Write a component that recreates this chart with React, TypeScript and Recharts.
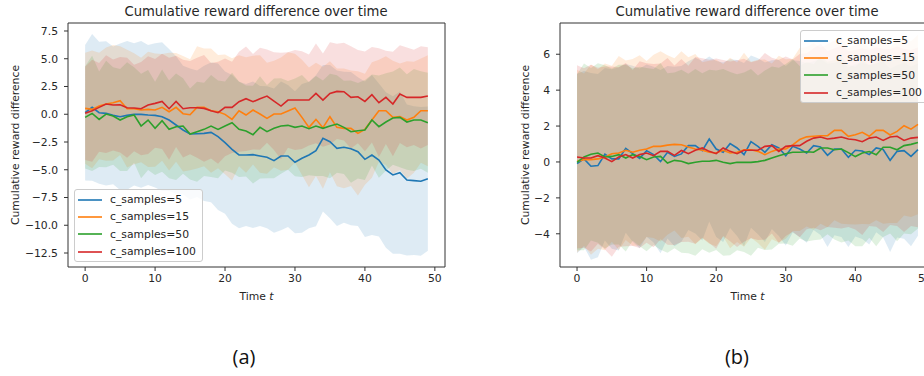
import React from 'react';
import { ComposedChart, Area, Line, XAxis, YAxis, ReferenceArea, Legend } from 'recharts';

const COLORS = ['#1f77b4', '#ff7f0e', '#2ca02c', '#d62728'];
const seriesLabels = ['c_samples=5', 'c_samples=15', 'c_samples=50', 'c_samples=100'];
const titleText = 'Cumulative reward difference over time';
const yLabelText = 'Cumulative reward difference';

const steps = [0, 1, 2, 3, 4, 5, 6, 7, 8, 9, 10, 11, 12, 13, 14, 15, 16, 17, 18, 19, 20, 21, 22, 23, 24, 25, 26, 27, 28, 29, 30, 31, 32, 33, 34, 35, 36, 37, 38, 39, 40, 41, 42, 43, 44, 45, 46, 47, 48, 49];
const xTicks = [0, 10, 20, 30, 40, 50];
const yTicksA = [-12.5, -10, -7.5, -5, -2.5, 0, 2.5, 5, 7.5];
const yTicksB = [-4, -2, 0, 2, 4, 6];

// ---- panel (a): mean and spread per series ----
const blueMeanA = [0.14, 0.62, 0.14, 0.08, -0.10, -0.22, -0.10, -0.01, -0.01, -0.07, -0.10, -0.22, -0.52, -0.97, -1.42, -1.78, -1.75, -1.72, -1.63, -2.02, -2.56, -3.16, -3.67, -3.67, -3.64, -3.76, -3.88, -4.18, -3.76, -3.76, -4.33, -3.97, -3.67, -3.28, -2.17, -2.47, -3.07, -2.98, -3.10, -3.37, -4.06, -3.67, -4.12, -5.02, -5.47, -5.26, -5.92, -5.98, -6.04, -5.80];
const blueStdA = [6.1, 6.6, 6.4, 6.5, 6.2, 6.6, 6.7, 6.4, 6.6, 6.3, 6.5, 6.7, 6.4, 6.2, 5.8, 5.9, 5.7, 6.1, 6.3, 6.6, 6.4, 6.7, 6.6, 6.4, 6.6, 6.3, 6.4, 6.5, 6.7, 6.4, 6.4, 6.7, 6.6, 6.8, 6.6, 6.9, 7.0, 6.8, 6.9, 6.7, 7.0, 7.2, 6.9, 7.0, 7.1, 7.3, 6.8, 6.7, 6.7, 6.5];
const orangeMeanA = [0.53, 0.44, 0.74, 0.92, 1.04, 1.22, 0.50, 0.50, 0.38, 0.44, 0.38, 0.62, 0.23, 0.62, 0.05, -0.04, 0.62, 0.62, 0.32, 0.23, -0.01, -0.46, 0.32, -0.07, 0.38, 0.02, -0.37, 0.02, 0.02, 0.29, 0.56, -0.28, -1.18, -0.46, -1.21, -0.22, -1.18, -1.27, -1.27, -1.72, -1.36, -0.52, 0.32, 0.32, -0.28, -0.22, -0.52, -0.28, 0.32, 0.32];
const orangeStdA = [5.0, 5.3, 4.8, 5.1, 5.2, 4.9, 5.3, 5.0, 4.7, 5.2, 5.1, 4.8, 5.3, 4.9, 5.2, 5.0, 5.5, 5.3, 5.6, 5.1, 5.4, 5.5, 5.0, 5.2, 4.9, 5.3, 5.0, 4.8, 5.1, 5.3, 4.9, 5.2, 5.4, 5.1, 5.5, 5.0, 5.3, 5.4, 5.2, 5.6, 5.0, 5.2, 4.6, 4.9, 5.1, 4.8, 5.3, 5.0, 4.7, 5.0];
const greenMeanA = [-0.28, 0.08, -0.46, 0.02, -0.16, -0.52, -0.22, -0.07, -1.06, -0.52, -1.27, -0.58, -1.36, -1.12, -1.06, -1.78, -1.57, -1.36, -1.06, -1.36, -1.06, -0.76, -1.36, -1.51, -1.84, -1.18, -1.57, -1.27, -1.06, -1.00, -1.18, -1.06, -1.30, -1.06, -1.27, -1.06, -0.88, -1.18, -1.57, -1.48, -1.42, -0.52, -1.12, -0.70, -0.34, -0.28, -0.70, -0.52, -0.52, -0.76];
const greenStdA = [4.6, 5.2, 4.3, 4.8, 4.4, 4.6, 4.9, 4.3, 4.7, 4.5, 4.2, 4.6, 4.4, 4.8, 4.3, 4.1, 4.5, 4.2, 4.6, 4.4, 4.0, 4.5, 4.3, 4.1, 4.4, 4.6, 4.2, 4.5, 4.3, 4.0, 4.4, 4.6, 4.2, 4.5, 4.3, 4.7, 4.4, 4.2, 4.6, 4.3, 4.5, 4.1, 4.6, 4.4, 4.2, 4.5, 4.3, 4.6, 4.4, 4.5];
const redMeanA = [0.08, 0.32, 0.62, 0.92, 0.83, 0.86, 0.59, 0.56, 0.50, 0.83, 0.98, 1.16, 0.50, 1.16, 0.50, 0.59, 0.59, 0.53, 0.32, 0.14, 0.62, 0.62, 1.13, 1.40, 1.13, 1.40, 1.64, 1.19, 0.74, 1.28, 1.28, 1.28, 1.28, 1.88, 1.28, 1.88, 2.06, 2.03, 1.52, 1.58, 1.16, 1.76, 1.04, 1.52, 0.92, 1.82, 1.52, 1.52, 1.52, 1.64];
const redStdA = [4.2, 4.6, 4.0, 4.4, 4.1, 4.3, 4.5, 3.9, 4.2, 4.4, 4.0, 4.3, 4.6, 4.1, 4.4, 4.2, 4.5, 4.8, 4.3, 4.6, 4.4, 4.1, 4.5, 4.7, 4.3, 4.6, 4.2, 4.4, 4.8, 4.3, 4.5, 4.4, 4.1, 4.5, 4.2, 4.6, 4.3, 4.4, 4.6, 4.2, 4.5, 4.3, 4.9, 4.2, 4.7, 4.4, 4.5, 4.3, 4.6, 4.4];

// ---- panel (b) ----
const blueMeanB = [-0.09, 0.17, -0.24, -0.20, 0.43, 0.17, 0.17, 0.76, 0.46, 0.20, 0.63, 0.41, 0.02, 0.54, 0.31, 0.45, 0.91, 0.91, 0.63, 1.28, 0.72, 0.54, 1.02, 0.78, 0.41, 1.13, 0.87, 0.54, 0.96, 0.78, 0.35, 0.87, 0.72, 0.50, 0.91, 0.83, 0.37, 0.72, 0.72, 0.26, 0.65, 0.61, 0.41, 0.78, 0.69, 0.09, 0.59, 0.63, 0.31, 0.69];
const blueStdB = [5.0, 4.9, 5.2, 5.1, 4.8, 5.0, 5.1, 4.7, 4.9, 5.0, 4.8, 4.9, 5.1, 4.8, 5.0, 4.9, 4.7, 4.9, 5.0, 4.6, 4.9, 5.0, 4.7, 4.9, 5.1, 4.8, 4.9, 5.0, 4.7, 4.9, 5.0, 4.8, 4.9, 5.0, 4.7, 4.9, 5.1, 4.8, 4.9, 5.0, 4.8, 4.9, 5.0, 4.7, 4.9, 5.1, 4.8, 4.9, 5.0, 4.8];
const orangeMeanB = [0.04, 0.13, 0.13, 0.17, 0.28, 0.46, 0.50, 0.65, 0.54, 0.65, 0.72, 0.87, 0.87, 0.94, 0.98, 0.96, 0.83, 0.72, 0.65, 0.54, 0.50, 0.65, 0.50, 0.54, 0.68, 0.68, 0.59, 0.41, 0.59, 0.72, 0.72, 0.95, 1.25, 1.40, 1.43, 1.46, 1.46, 1.76, 1.76, 1.43, 1.52, 1.65, 1.43, 1.76, 1.76, 1.50, 1.70, 2.02, 1.83, 2.09];
const orangeStdB = [5.1, 4.8, 5.3, 5.0, 5.2, 4.9, 5.4, 5.0, 5.2, 5.3, 4.9, 5.1, 5.3, 5.0, 4.8, 5.2, 5.0, 5.3, 4.9, 5.1, 5.2, 4.8, 5.3, 5.0, 5.4, 4.9, 5.1, 5.3, 4.9, 5.2, 5.0, 4.8, 5.1, 5.0, 5.2, 4.9, 5.1, 5.0, 5.2, 4.9, 5.0, 5.1, 4.9, 5.0, 5.2, 4.9, 5.1, 5.0, 4.9, 5.0];
const greenMeanB = [-0.02, 0.28, 0.43, 0.50, 0.28, 0.31, 0.41, 0.22, 0.41, 0.31, 0.13, 0.28, 0.31, -0.06, 0.09, 0.04, -0.09, -0.02, 0.04, 0.04, 0.09, -0.02, -0.09, -0.02, -0.02, -0.02, 0.02, 0.09, 0.22, 0.35, 0.46, 0.54, 0.54, 0.57, 0.54, 0.78, 0.78, 0.68, 0.72, 0.52, 0.30, 0.50, 0.58, 0.40, 0.82, 0.82, 0.68, 0.91, 0.98, 1.09];
const greenStdB = [4.9, 5.2, 4.8, 5.0, 5.1, 4.9, 5.0, 5.2, 4.8, 5.0, 5.1, 4.9, 5.2, 5.0, 4.9, 5.1, 5.0, 5.2, 4.9, 5.1, 5.0, 5.2, 5.1, 4.9, 5.0, 5.2, 4.8, 5.0, 5.1, 4.9, 5.0, 5.2, 4.8, 5.0, 4.9, 5.1, 4.8, 5.0, 5.2, 4.9, 5.0, 5.2, 4.8, 5.1, 5.0, 4.8, 5.1, 4.9, 5.0, 4.8];
const redMeanB = [0.28, 0.22, 0.22, 0.35, 0.22, 0.02, 0.28, 0.41, 0.22, 0.41, 0.50, 0.35, 0.59, 0.59, 0.37, 0.64, 0.46, 0.65, 0.78, 0.59, 0.46, 0.78, 0.59, 0.46, 0.65, 0.65, 0.65, 0.87, 0.91, 0.59, 0.87, 0.91, 0.91, 1.15, 1.33, 1.39, 1.28, 1.33, 1.39, 1.28, 1.24, 1.13, 1.33, 1.39, 1.20, 1.39, 1.43, 1.20, 1.33, 1.37];
const redStdB = [5.1, 5.0, 5.2, 4.9, 5.1, 5.3, 5.0, 5.1, 4.9, 5.2, 5.0, 5.1, 4.9, 5.2, 5.0, 5.1, 4.9, 5.2, 5.0, 5.1, 5.3, 4.9, 5.0, 5.2, 5.1, 4.9, 5.0, 5.2, 4.9, 5.1, 5.0, 4.8, 5.1, 4.9, 5.0, 5.2, 4.9, 5.0, 5.1, 4.9, 5.0, 5.2, 4.9, 5.0, 5.1, 4.9, 5.0, 5.1, 4.9, 5.0];

function buildRows(means: number[][], stds: number[][]) {
  return steps.map((t, i) => {
    const row: any = { t };
    means.forEach((m, s) => {
      row['m' + s] = m[i];
      row['b' + s] = [m[i] - stds[s][i], m[i] + stds[s][i]];
    });
    return row;
  });
}

const rowsA = buildRows([blueMeanA, orangeMeanA, greenMeanA, redMeanA], [blueStdA, orangeStdA, greenStdA, redStdA]);
const rowsB = buildRows([blueMeanB, orangeMeanB, greenMeanB, redMeanB], [blueStdB, orangeStdB, greenStdB, redStdB]);

const FONT = '"DejaVu Sans", sans-serif';
const TXT = '#262626';

const minus = (s: string) => s.replace('-', '\u2212');

function LegendBox() {
  return (
    <div style={{
      border: '1px solid #cccccc', borderRadius: 3, background: 'rgba(255,255,255,0.8)',
      padding: '1px 6px 1px 3px', fontFamily: FONT, fontSize: 10.8, color: TXT, boxSizing: 'border-box',
    }}>
      {seriesLabels.map((lab, s) => (
        <div key={lab} style={{ display: 'flex', alignItems: 'center', height: 17.3, whiteSpace: 'nowrap' }}>
          <svg width={24} height={4} style={{ marginRight: 8 }}>
            <line x1={0} y1={2} x2={24} y2={2} stroke={COLORS[s]} strokeWidth={1.6} />
          </svg>
          <span>{lab}</span>
        </div>
      ))}
    </div>
  );
}

type PanelProps = {
  rows: any[];
  left: number;
  width: number;
  yDomain: [number, number];
  yTicks: number[];
  yFmt: (v: number) => string;
  legendLeft: number;
  legendTop: number;
  yAxisWidth: number;
  marginLeft: number;
  marginRight: number;
  yLabelDx: number;
};

function Panel(p: PanelProps) {
  const xDomain: [number, number] = [-2.45, 51.45];
  return (
    <div style={{ position: 'absolute', left: p.left, top: 0 }}>
      <ComposedChart width={p.width} height={315} data={p.rows}
        margin={{ top: 23, right: p.marginRight, left: p.marginLeft, bottom: 18 }}>
        <XAxis dataKey="t" type="number" domain={xDomain} ticks={xTicks} allowDataOverflow
          axisLine={false} tickSize={4} tickMargin={3} height={30} interval={0}
          tickLine={{ stroke: '#333333' }}
          tick={{ fontFamily: FONT, fontSize: 10.8, fill: TXT }}
          label={{
            content: (props: any) => {
              const vb = props.viewBox;
              return (
                <text x={vb.x + vb.width / 2} y={vb.y + 29} textAnchor="middle" dominantBaseline="central"
                  fontFamily={FONT} fontSize={10.8} fill={TXT}>
                  Time <tspan fontStyle="italic">t</tspan>
                </text>
              );
            },
          }} />
        <YAxis type="number" domain={p.yDomain} ticks={p.yTicks} allowDataOverflow interval={0}
          axisLine={false} tickSize={4} tickMargin={6} width={p.yAxisWidth}
          tickLine={{ stroke: '#333333' }}
          tickFormatter={p.yFmt}
          tick={{ fontFamily: FONT, fontSize: 10.8, fill: TXT }}
          label={{
            content: (props: any) => {
              const vb = props.viewBox;
              const cx = vb.x + p.yLabelDx;
              const cy = vb.y + vb.height / 2;
              return (
                <text x={cx} y={cy} transform={`rotate(-90, ${cx}, ${cy})`} textAnchor="middle"
                  dominantBaseline="central" fontFamily={FONT} fontSize={10.8} fill={TXT}>
                  {yLabelText}
                </text>
              );
            },
          }} />
        {COLORS.map((c, s) => (
          <Area key={'a' + s} type="linear" dataKey={'b' + s} fill={c} fillOpacity={0.15}
            stroke="none" isAnimationActive={false} legendType="none" activeDot={false} />
        ))}
        {COLORS.map((c, s) => (
          <Line key={'l' + s} type="linear" dataKey={'m' + s} stroke={c} strokeWidth={1.6}
            dot={false} isAnimationActive={false} name={seriesLabels[s]} activeDot={false} />
        ))}
        <ReferenceArea x1={xDomain[0]} x2={xDomain[1]} y1={p.yDomain[0]} y2={p.yDomain[1]}
          fill="none" stroke="#333333" strokeWidth={1} ifOverflow="visible" />
        <Legend layout="vertical" align="center" verticalAlign="middle"
          wrapperStyle={{ left: p.legendLeft, top: p.legendTop, width: 'auto', height: 'auto' }}
          content={() => <LegendBox />} />
      </ComposedChart>
    </div>
  );
}

export default function App() {
  return (
    <div style={{ position: 'absolute', left: 0, top: 0, width: 924, height: 376, overflow: 'hidden', background: '#ffffff' }}>
      <div style={{ position: 'absolute', left: 56, width: 400, top: 4, textAlign: 'center', fontFamily: FONT, fontSize: 13.2, color: TXT, whiteSpace: 'nowrap' }}>
        {titleText}
      </div>
      <div style={{ position: 'absolute', left: 547, width: 400, top: 4, textAlign: 'center', fontFamily: FONT, fontSize: 13.2, color: TXT, whiteSpace: 'nowrap' }}>
        {titleText}
      </div>
      <Panel rows={rowsA} left={0} width={460} yDomain={[-13.76, 8.22]} yTicks={yTicksA}
        yFmt={(v: number) => minus(v.toFixed(1))} legendLeft={74} legendTop={189}
        yAxisWidth={55} marginLeft={13} marginRight={15} yLabelDx={2} />
      <Panel rows={rowsB} left={500} width={450} yDomain={[-5.85, 7.74]} yTicks={yTicksB}
        yFmt={(v: number) => minus(String(v))} legendLeft={300} legendTop={30}
        yAxisWidth={55} marginLeft={5} marginRight={15} yLabelDx={20} />
      <div style={{ position: 'absolute', left: 204, width: 80, top: 343, textAlign: 'center', fontFamily: '"Open Sans", sans-serif', fontSize: 20, color: '#111' }}>(a)</div>
      <div style={{ position: 'absolute', left: 697, width: 80, top: 343, textAlign: 'center', fontFamily: '"Open Sans", sans-serif', fontSize: 20, color: '#111' }}>(b)</div>
    </div>
  );
}
